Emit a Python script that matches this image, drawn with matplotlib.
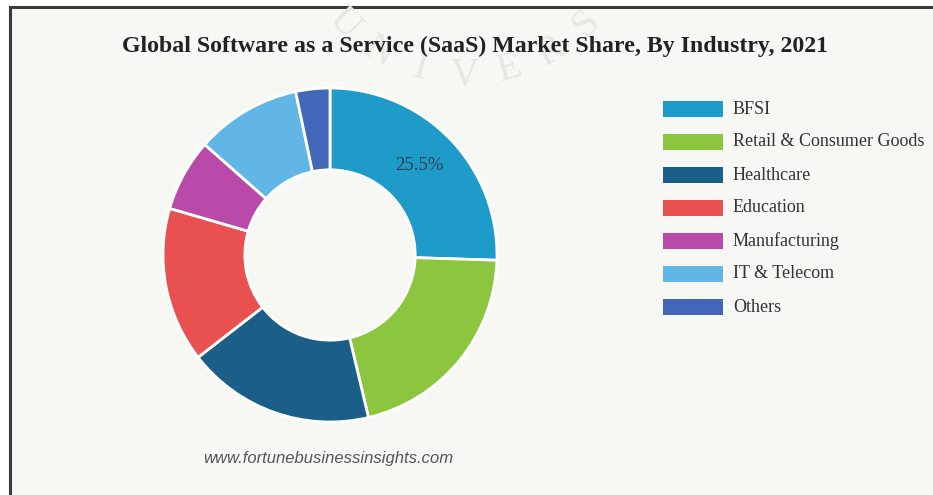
import numpy as np
import matplotlib.pyplot as plt
from matplotlib.patches import Rectangle

industries = ['BFSI', 'Retail & Consumer Goods', 'Healthcare', 'Education',
              'Manufacturing', 'IT & Telecom', 'Others']
shares = [25.5, 20.8, 18.2, 15.0, 7.0, 10.2, 3.3]
colors = ['#1f9bca', '#8cc63f', '#1b5f88', '#e8514f', '#b94aa9', '#62b6e6', '#4267b8']

title = 'Global Software as a Service (SaaS) Market Share, By Industry, 2021'
source = 'www.fortunebusinessinsights.com'
seal_text = 'UNIVERSITY'

W, H = 933, 495
fig = plt.figure(figsize=(W / 100, H / 100), dpi=100)
fig.patch.set_facecolor('white')

# background panel with dark frame on top/left (pixel coords, y down)
bg = fig.add_axes([0, 0, 1, 1])
bg.set_xlim(0, W)
bg.set_ylim(H, 0)
bg.axis('off')
bg.add_patch(Rectangle((10, 7), W + 20, H + 20, facecolor='#f7f7f4',
                       edgecolor='#3a3a3a', linewidth=2.2, zorder=0))

# faint seal watermark: letters along the bottom arc of a ring
cx, cy, r = 465, -94, 169
for k, ch in enumerate(seal_text):
    th = (k - 3) * 15.3
    x = cx + r * np.sin(np.deg2rad(th))
    y = cy + r * np.cos(np.deg2rad(th))
    if y < 0:
        continue
    bg.text(x, y, ch, fontsize=28, family='Liberation Serif', color='#e6e6e2',
            ha='center', va='center', rotation=th, zorder=0.5)

# donut
R = 167
ax = fig.add_axes([(330 - R) / W, (H - 255 - R) / H, 2 * R / W, 2 * R / H])
ax.set_facecolor('none')
wedges, _ = ax.pie(shares, colors=colors, startangle=90, counterclock=False,
                   radius=1.0, wedgeprops=dict(width=0.49, edgecolor='white', linewidth=2))
ax.set_xlim(-1, 1)
ax.set_ylim(-1, 1)
ax.set_aspect('equal')

# value label on the largest slice
mid = np.deg2rad(90 - shares[0] / 100 * 360 / 2)
ax.text(0.745 * np.cos(mid), 0.745 * np.sin(mid) + 0.02, f'{shares[0]}%', ha='center', va='center',
        fontsize=13.5, family='Liberation Serif', color='#2a3f4f')

# title
fig.text(475 / W, 1 - 46 / H, title, ha='center', va='center', fontsize=17.2,
         family='Liberation Serif', weight='bold', color='#222222')

# legend
for i, (name, c) in enumerate(zip(industries, colors)):
    y = 109 + 33 * i
    bg.add_patch(Rectangle((663, y - 8), 60, 16, facecolor=c, edgecolor='none'))
    bg.text(733, y, name, fontsize=13, family='Liberation Serif', color='#333333',
            ha='left', va='center')

bg.text(203, 458, source, fontsize=12, family='Liberation Sans', style='italic',
        color='#555555', ha='left', va='center')

fig.savefig('out.png', dpi=100)
